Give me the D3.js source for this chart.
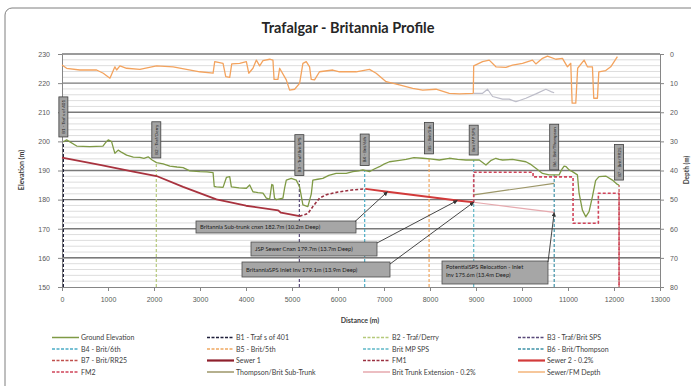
<!DOCTYPE html>
<html>
<head>
<meta charset="utf-8">
<script src="https://cdn.jsdelivr.net/npm/d3@7"></script>
<style>
  html, body { margin: 0; padding: 0; background: #fff; }
  svg { display: block; font-family: Lato, "Open Sans", sans-serif; }
</style>
</head>
<body>
<svg id="chart" width="691" height="386"></svg>
<script>
// ---- profile data: [distance (m), elevation (m)] ----
const groundElevation = [
  [30,199.8],[100,200.5],[320,198.4],[600,198.2],[890,198.4],[960,199.8],[1005,200.5],[1078,199.9],
  [1120,197.5],[1150,195.9],[1222,197],[1300,196.2],[1404,195.3],[1550,194.6],[1693,194.5],[1780,194.2],
  [1873,194.7],[1960,193.6],[2055,192.7],[2200,192.3],[2344,191.5],[2500,191.2],[2633,191],[2778,189.9],
  [2995,189.6],[3150,189.5],[3284,189.3],[3310,184.5],[3357,184.4],[3501,184.2],[3574,187.6],[3646,187.9],
  [3682,184.4],[3850,184],[4008,183.9],[4080,185],[4151,182.7],[4260,182.4],[4369,182.2],[4442,180.5],
  [4514,180.2],[4560,185.2],[4586,185],[4620,180.5],[4659,180],[4803,180.5],[4840,184],[4876,186.7],
  [4984,187.3],[5093,186.7],[5165,184.4],[5237,178.2],[5345,177.6],[5420,182],[5453,186.7],[5560,187],
  [5670,187.3],[5800,188.3],[5959,189],[6178,189],[6323,189.6],[6450,189.9],[6540,190.2],[6684,189.6],
  [6800,190.6],[6901,191.3],[7000,192.2],[7118,193],[7300,193.4],[7480,193.8],[7650,194.4],[7840,194.2],
  [8000,194],[8203,193.6],[8420,194.2],[8600,193.8],[8782,193.6],[9071,193.6],[9216,191.9],[9330,193.5],
  [9433,194.2],[9500,193.8],[9577,193.6],[9794,193.8],[10084,193],[10200,192],[10301,190.8],[10446,189],
  [10590,188.5],[10807,188.5],[10870,190.5],[10915,191.5],[10960,191.3],[11024,190.2],[11096,189.6],
  [11205,188.5],[11241,182.2],[11313,176.4],[11386,174.1],[11458,175.9],[11531,181],[11600,186.5],
  [11640,187.3],[11676,187.9],[11820,188.1],[11965,186.7],[12074,185.2],[12110,185]
];

// sewer / forcemain alignment
const sewer1 = [
  [0,194.4],[825,191.9],[1548,189.6],[2055,188.1],[2633,184.4],[3357,180.1],[4000,177.9],
  [4700,176.3],[4760,175.5],[5165,174.3]
];
const fm1 = [
  [5165,174.3],[5345,175.2],[5453,177.6],[5598,180.5],[5744,181.7],[6000,182.6],[6300,183.3],[6600,183.7]
];
const sewer2 = [[6600,183.7],[7075,182.7],[8594,179.7],[8950,179.1]];
const fm2 = [
  [8950,179.1],[8950,189.4],[10240,189.4],[10240,187.8],[11110,187.8],[11110,171.9],
  [11660,171.9],[11660,182.2],[12110,182.2],[12110,150]
];
const subTrunk = [[8950,181.6],[10700,185.6]];
const trunkExtension = [[8950,179.1],[10700,175.6]];

// depth below ground: [distance (m), depth (m)]
const pipeDepth = [
  [0,3.8],[100,4.9],[390,5.5],[752,5.5],[897,6.6],[1042,8.3],[1150,4.4],[1187,5.5],[1259,4.1],
  [1404,4.9],[1693,5.3],[2055,4.1],[2416,4.4],[2706,5.3],[2995,6.1],[3284,6.6],[3320,2.6],[3501,3.2],
  [3560,7.8],[3646,8.0],[3690,3.4],[3863,3.2],[4008,2.6],[4060,6.6],[4151,4.9],[4225,2.1],[4297,4.1],
  [4369,2.3],[4514,1.8],[4586,2.1],[4610,8.7],[4694,8.7],[4731,4.9],[4876,8.9],[4948,12.4],[5057,12.1],
  [5165,10.1],[5237,3.2],[5310,2.6],[5382,4.4],[5418,8.7],[5490,8.9],[5598,6.1],[5887,5.5],[6032,6.1],
  [6394,6.1],[6684,5.3],[6829,6.6],[7046,9.5],[7335,10.6],[7624,11.8],[7840,12.4],[8130,12.1],
  [8420,13.5],[8637,13.7],[8941,13.5],[8950,4.1],[9143,2.6],[9288,2.1],[9433,4.4],[9650,4.6],
  [9794,3.8],[10011,3.2],[10228,2.1],[10301,3.4],[10446,1.5],[10554,0.7],[10735,1.8],[10879,1.5],
  [10988,4.4],[11060,3.2],[11090,16.9],[11169,16.9],[11210,4.9],[11350,2.1],[11422,4.4],[11531,4.4],
  [11560,15.2],[11640,15.2],[11670,6.1],[11820,5.7],[11929,4.4],[12074,0.9]
];
const extensionDepth = [
  [8950,13.5],[9143,13.5],[9252,12.1],[9361,14.6],[9577,15.5],[9722,15.5],[9867,16.4],
  [10084,15.2],[10301,13.7],[10518,12.1],[10627,12.9],[10699,13.3]
];

// boreholes / stations
const boreholeNames = ["B1 - Traf s of 401","B2 - Traf/Derry","B3 - Traf/Brit SPS","B4 - Brit/6th",
  "B5 - Brit/5th","Brit MP SPS","B6 - Brit/Thompson","B7 - Brit/RR25"];
const boreholeDist = [30, 2050, 5160, 6580, 7980, 8950, 10700, 12110];
const boreholeGround = [199.8, 192.6, 186.6, 190.0, 194.0, 193.6, 188.5, 185.0];
const boreholeColors = ["#1f1f3a","#b5c97a","#5a4a7a","#4bacc6","#f0a860","#5fb8c8","#3f92a8","#c0504d"];

// callouts
const calloutText = [
  ["Britannia Sub-trunk cnxn 182.7m (10.2m Deep)"],
  ["JSP Sewer Cnxn 179.7m (13.7m Deep)"],
  ["BritanniaSPS Inlet Inv 179.1m (13.9m Deep)"],
  ["PotentialSPS Relocation - Inlet", "Inv 175.6m (13.4m Deep)"]
];
const calloutTarget = [[7075,182.7],[8594,179.7],[8950,179.1],[10700,175.6]];

const xTicks = d3.range(0, 13001, 1000);
const yTicks = d3.range(150, 231, 10);
const depthTicks = d3.range(0, 81, 10);

// ---- layout ----
const svg = d3.select("#chart");
const L = 62, R = 660, T = 54, B = 287;
const x = d3.scaleLinear().domain([0, 13000]).range([L, R]);
const y = d3.scaleLinear().domain([150, 230]).range([B, T]);
const yDepth = d3.scaleLinear().domain([0, 80]).range([T, B]);

// chart frame
svg.append("rect").attr("x", 5).attr("y", 8).attr("width", 720).attr("height", 420)
  .attr("rx", 7).attr("fill", "#fff").attr("stroke", "#7f7f7f").attr("stroke-width", 1);

svg.append("text").attr("x", 348).attr("y", 33).attr("text-anchor", "middle")
  .attr("font-size", 14.5).attr("font-weight", "bold").attr("fill", "#262626")
  .text("Trafalgar - Britannia Profile");

// gridlines
const grid = svg.append("g");
grid.selectAll("line.minor").data(d3.range(150, 231, 2).filter(v => v % 10 !== 0)).join("line")
  .attr("x1", L).attr("x2", R).attr("y1", d => y(d)).attr("y2", d => y(d))
  .attr("stroke", "#d4d4d4").attr("stroke-width", 0.8);
grid.selectAll("line.major").data(yTicks.filter(v => v > 150)).join("line")
  .attr("x1", L).attr("x2", R).attr("y1", d => y(d)).attr("y2", d => y(d))
  .attr("stroke", d => d === 160 ? "#2a2a2a" : "#7a7a7a").attr("stroke-width", d => d === 160 ? 1 : 1.4);

// axes
const axisStyle = g => {
  g.select(".domain").attr("stroke", "#868686");
  g.selectAll(".tick line").attr("stroke", "#868686");
  g.selectAll(".tick text").attr("fill", "#595959").attr("font-size", 7);
};
svg.append("g").attr("transform", `translate(0,${B})`)
  .call(d3.axisBottom(x).tickValues(xTicks).tickFormat(d3.format("d")).tickSize(4).tickSizeOuter(0).tickPadding(6))
  .call(axisStyle);
svg.append("g").attr("transform", `translate(${L},0)`)
  .call(d3.axisLeft(y).tickValues(yTicks).tickSize(4).tickSizeOuter(0).tickPadding(8))
  .call(axisStyle);
svg.append("g").attr("transform", `translate(${R},0)`)
  .call(d3.axisRight(yDepth).tickValues(depthTicks).tickSize(4).tickSizeOuter(0).tickPadding(6))
  .call(axisStyle);

svg.append("text").attr("transform", "translate(24,170) rotate(-90)").attr("text-anchor", "middle")
  .attr("font-size", 7).attr("font-weight", "bold").attr("fill", "#404040").text("Elevation (m)");
svg.append("text").attr("transform", "translate(689,170) rotate(-90)").attr("text-anchor", "middle")
  .attr("font-size", 6.5).attr("font-weight", "bold").attr("fill", "#404040").text("Depth (m)");
svg.append("text").attr("x", 360).attr("y", 323).attr("text-anchor", "middle")
  .attr("font-size", 7).attr("font-weight", "bold").attr("fill", "#404040").text("Distance (m)");

// ---- series ----
const elevLine = d3.line().x(d => x(d[0])).y(d => y(d[1]));
const depthLine = d3.line().x(d => x(d[0])).y(d => yDepth(d[1]));
const plot = svg.append("g");

function path(data, gen, color, width, dash) {
  plot.append("path").datum(data).attr("d", gen).attr("fill", "none")
    .attr("stroke", color).attr("stroke-width", width)
    .attr("stroke-dasharray", dash || null).attr("stroke-linejoin", "round");
}

// borehole verticals
plot.selectAll("line.bh").data(boreholeDist).join("line")
  .attr("x1", d => x(d)).attr("x2", d => x(d))
  .attr("y1", y(150)).attr("y2", (d, i) => y(boreholeGround[i]))
  .attr("stroke", (d, i) => boreholeColors[i]).attr("stroke-width", 1.2).attr("stroke-dasharray", "3,2");

path(pipeDepth, depthLine, "#f3a35e", 1.3);
path(extensionDepth, depthLine, "#bdbdc9", 1.2);
path(groundElevation, elevLine, "#7f9a45", 1.3);
path(trunkExtension, elevLine, "#e6a9ae", 1.2);
path(subTrunk, elevLine, "#9c9668", 1.2);
path(sewer1, elevLine, "#a8323e", 1.8);
path(fm1, elevLine, "#9a3040", 1.6, "3,2");
path(sewer2, elevLine, "#d23a3a", 1.8);
path(fm2, elevLine, "#d0445a", 1.6, "3,2");

// borehole tags
boreholeDist.forEach((d, i) => {
  const g = svg.append("g");
  const cx = x(d), bottom = y(boreholeGround[i]) - 5;
  const t = g.append("text").attr("font-size", 4.5).attr("fill", "#1a1a1a").text(boreholeNames[i]);
  const len = t.node().getComputedTextLength() + 6;
  g.insert("rect", "text").attr("x", cx - 4.5).attr("y", bottom - len).attr("width", 9).attr("height", len)
    .attr("fill", "#a3a3a3").attr("stroke", "#3f3f3f").attr("stroke-width", 0.8);
  t.attr("transform", `translate(${cx + 1.6},${bottom - 3}) rotate(-90)`);
});

// callouts with arrows
svg.append("defs").append("marker").attr("id", "arrowHead").attr("viewBox", "0 0 10 10")
  .attr("refX", 9).attr("refY", 5).attr("markerWidth", 5).attr("markerHeight", 5).attr("orient", "auto")
  .append("path").attr("d", "M0,0 L10,5 L0,10 z").attr("fill", "#333");

const calloutBox = [[196,221,160,12],[251,242,126,14],[242,262,148,15],[442,261,106,23]];
const calloutStart = [[355,221.5],[377,243],[390,264],[548,262]];
calloutText.forEach((lines, i) => {
  const [bx, by, bw, bh] = calloutBox[i];
  svg.append("rect").attr("x", bx).attr("y", by).attr("width", bw).attr("height", bh)
    .attr("fill", "#a6a6a6").attr("stroke", "#4d4d4d").attr("stroke-width", 0.8);
  const t = svg.append("text").attr("font-size", 5.8).attr("fill", "#1a1a1a");
  lines.forEach((s, k) => {
    t.append("tspan").attr("x", bx + 4).attr("y", by + (lines.length > 1 ? 8 + k * 8 : bh / 2 + 2)).text(s);
  });
  const [tx, ty] = calloutTarget[i];
  svg.append("line").attr("x1", calloutStart[i][0]).attr("y1", calloutStart[i][1])
    .attr("x2", x(tx)).attr("y2", y(ty)).attr("stroke", "#333").attr("stroke-width", 0.9)
    .attr("marker-end", "url(#arrowHead)");
});

// ---- legend ----
const legendNames = ["Ground Elevation","B1 - Traf s of 401","B2 - Traf/Derry","B3 - Traf/Brit SPS",
  "B4 - Brit/6th","B5 - Brit/5th","Brit MP SPS","B6 - Brit/Thompson",
  "B7 - Brit/RR25","Sewer 1","FM1","Sewer 2 - 0.2%",
  "FM2","Thompson/Brit Sub-Trunk","Brit Trunk Extension - 0.2%","Sewer/FM Depth"];
const legendColors = ["#7f9a45","#1f1f3a","#b5c97a","#5a4a7a","#4bacc6","#f0a860","#5fb8c8","#3f92a8",
  "#c0504d","#8e1f2c","#9a3040","#d23a3a","#d0445a","#9c9668","#e6a9ae","#f3b47a"];
const legendDashed = [false,true,true,true,true,true,true,true,true,false,true,false,true,false,false,false];
const legendWidth = [1.5,1.5,1.5,1.5,1.5,1.5,1.5,1.5,1.5,2.2,1.5,2.2,1.5,1.5,1.5,1.5];
const colX = [52, 207, 363, 518], rowY = [337.5, 349, 360.5, 372];
const lg = svg.append("g");
legendNames.forEach((n, i) => {
  const cx = colX[i % 4], cy = rowY[Math.floor(i / 4)];
  lg.append("line").attr("x1", cx).attr("x2", cx + 27).attr("y1", cy).attr("y2", cy)
    .attr("stroke", legendColors[i]).attr("stroke-width", legendWidth[i])
    .attr("stroke-dasharray", legendDashed[i] ? "3,1.5" : null);
  lg.append("text").attr("x", cx + 29).attr("y", cy + 2.5).attr("font-size", 7)
    .attr("fill", "#404040").text(n);
});
</script>
</body>
</html>
